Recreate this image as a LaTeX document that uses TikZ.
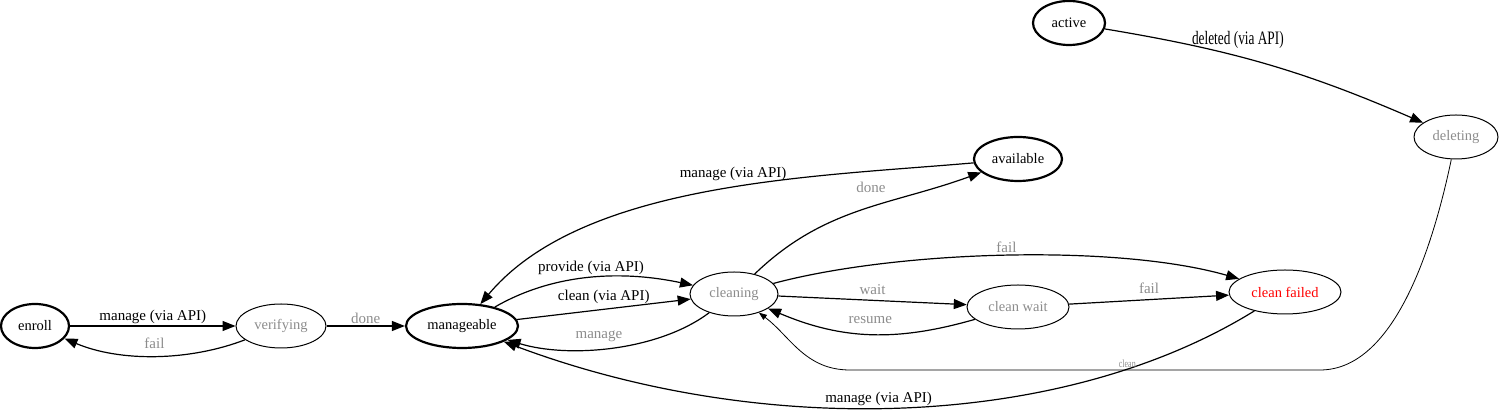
\documentclass[tikz,border=0pt]{standalone}
\usepackage{fontspec}
\setmainfont{Liberation Serif}
\usepackage{graphicx}
\usetikzlibrary{arrows.meta,shapes.geometric}

\begin{document}
\begin{tikzpicture}[
        x=1pt, y=1pt,
        font=\fontsize{14.5}{16}\selectfont,
        >={Triangle[length=13pt,width=10pt]},
        trans/.style={->, line width=1.2pt, draw=black},
        thinflow/.style={-{Triangle[length=8pt,width=6pt]}, line width=0.8pt, draw=black},
        state/.style={
            ellipse,
            draw=black,
            line width=1pt,
            inner sep=0pt,
            minimum height=44pt
        },
        stable/.style={state, line width=2.2pt},
        busy/.style={state, text=black!45},
        lbl/.style={font=\fontsize{15}{17}\selectfont, inner sep=2pt},
        lblg/.style={lbl, text=black!45}
    ]

    \useasboundingbox (0,0) rectangle (1499,411);

    \node[stable, minimum width=68pt] (enroll) at (35,85) {enroll};
    \node[busy, minimum width=90pt] (verifying) at (281,85) {verifying};
    \node[stable, minimum width=112pt] (manageable) at (462,85) {manageable};
    \node[busy, minimum width=88pt] (cleaning) at (734,117) {cleaning};
    \node[stable, minimum width=88pt] (available) at (1018,252) {available};
    \node[busy, minimum width=102pt] (cleanwait) at (1018,104) {clean wait};
    \node[state, text=red, minimum width=112pt] (cleanfailed) at (1285,119) {clean failed};
    \node[stable, minimum width=72pt] (active) at (1069,388) {active};
    \node[busy, minimum width=84pt] (deleting) at (1456,274) {deleting};

    \coordinate (bendr) at (1320,41);
    \coordinate (bendl) at (850,41);

    \draw[trans] (enroll) -- node[lbl, above] {manage (via API)} (verifying);
    \draw[trans] (verifying) to[out=201, in=337, looseness=0.85] node[lblg, above=5pt] {fail} (enroll);
    \draw[trans] (verifying) -- node[lblg, above] {done} (manageable);
    \draw[trans] (manageable) to[out=30, in=168, looseness=0.9] node[lbl, above] {provide (via API)} (cleaning);
    \draw[trans] (manageable) -- node[lbl, above=3pt] {clean (via API)} (cleaning);
    \draw[trans] (cleaning) to[out=217, in=343, looseness=0.8] node[lblg, pos=0.56, above=5pt] {manage} (manageable);
    \draw[trans] (available) to[out=185, in=50, looseness=0.8] node[lbl, pos=0.45, above=4pt] {manage (via API)} (manageable);
    \draw[trans] (cleaning) to[out=44, in=200] node[lblg, pos=0.55, above=11pt] {done} (available);
    \draw[trans] (cleaning) to[out=15, in=164, looseness=0.7] node[lblg, above] {fail} (cleanfailed);
    \draw[trans] (cleaning) -- node[lblg, above=3pt] {wait} (cleanwait);
    \draw[trans] (cleanwait) to[out=196, in=337] node[lblg, above=8pt] {resume} (cleaning);
    \draw[trans] (cleanwait) -- node[lblg, above=3pt] {fail} (cleanfailed);
    \draw[trans] (cleanfailed) .. controls (1060,-20) and (760,-27) .. node[lbl, pos=0.53, above=0pt] {manage (via API)} (manageable);
    \draw[thinflow] (deleting) .. controls (1430,150) and (1390,41) .. (bendr)
        -- node[pos=0.41, above=1pt, text=black!45, font=\fontsize{10}{11}\selectfont, inner sep=1pt] {\scalebox{0.8}[1.1]{clean}} (bendl)
        .. controls (805,41) and (790,75) .. (cleaning);
    \draw[trans] (active) to[bend left=7] node[lbl, pos=0.4, above=5pt, font=\fontsize{19}{21}\selectfont] {\scalebox{0.7}[1]{deleted (via API)}} (deleting);

\end{tikzpicture}
\end{document}
